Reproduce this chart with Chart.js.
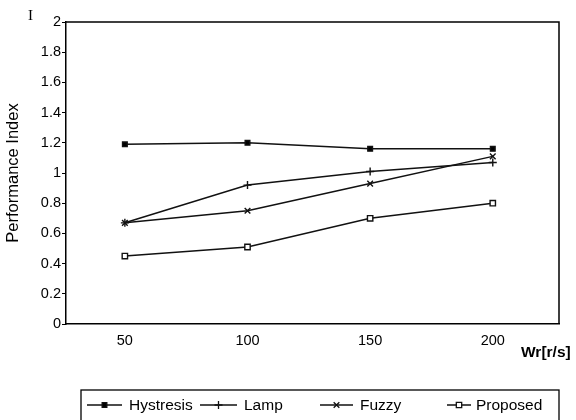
<!DOCTYPE html>
<html>
<head>
<meta charset="utf-8">
<script src="https://cdn.jsdelivr.net/npm/chart.js@4/dist/chart.umd.min.js"></script>
<style>
html,body{margin:0;padding:0;background:#fff;}
#wrap{width:576px;height:420px;position:relative;}
</style>
</head>
<body>
<div id="wrap"><canvas id="c" width="576" height="420"></canvas></div>
<script>
const categories = [50, 100, 150, 200];
const hystresis = [1.19, 1.20, 1.16, 1.16];
const lamp = [0.67, 0.92, 1.01, 1.07];
const fuzzy = [0.67, 0.75, 0.93, 1.11];
const proposed = [0.45, 0.51, 0.70, 0.80];
const seriesNames = ['Hystresis', 'Lamp', 'Fuzzy', 'Proposed'];
const xTitle = 'Wr[r/s]';
const yTitle = 'Performance Index';
const cornerLabel = 'I';

const FONT = "'Liberation Sans', Arial, sans-serif";
const toPts = arr => categories.map((x, i) => ({x: x, y: arr[i]}));

const styles = [
  {pointStyle: 'rect', pointRadius: 3.3, bg: '#000'},
  {pointStyle: 'cross', pointRadius: 4, bg: '#000'},
  {pointStyle: 'crossRot', pointRadius: 4, bg: '#000'},
  {pointStyle: 'rect', pointRadius: 3.8, bg: '#fff'}
];
const seriesData = [hystresis, lamp, fuzzy, proposed];

const datasets = seriesData.map((arr, i) => ({
  label: seriesNames[i],
  data: toPts(arr),
  borderColor: '#111',
  borderWidth: 1.5,
  backgroundColor: styles[i].bg,
  pointStyle: styles[i].pointStyle,
  pointRadius: styles[i].pointRadius,
  pointBorderColor: '#111',
  pointBorderWidth: 1.4,
  pointBackgroundColor: styles[i].bg,
  tension: 0,
  fill: false
}));

const decor = {
  id: 'decor',
  afterDraw(chart) {
    const ctx = chart.ctx;
    const a = chart.chartArea;
    ctx.save();
    ctx.strokeStyle = '#000';
    ctx.lineWidth = 1.5;
    ctx.beginPath();
    ctx.moveTo(a.left, a.top);
    ctx.lineTo(a.right, a.top);
    ctx.lineTo(a.right, a.bottom);
    ctx.stroke();

    // corner label
    ctx.fillStyle = '#000';
    ctx.font = "15px 'Liberation Serif', serif";
    ctx.textAlign = 'left';
    ctx.textBaseline = 'alphabetic';
    ctx.fillText(cornerLabel, 28, 20);

    // x title
    ctx.font = "bold 15.5px " + FONT;
    ctx.fillText(xTitle, 521, 357);

    // legend box
    ctx.lineWidth = 1.3;
    ctx.strokeRect(81, 390, 478, 40);
    const items = [
      {x0: 87, x1: 122, tx: 129},
      {x0: 200, x1: 237, tx: 244},
      {x0: 320, x1: 353, tx: 360},
      {x0: 447, x1: 471, tx: 476}
    ];
    const yc = 405;
    ctx.font = "15.5px " + FONT;
    ctx.textBaseline = 'middle';
    items.forEach((it, i) => {
      const ds = chart.data.datasets[i];
      ctx.strokeStyle = '#111';
      ctx.lineWidth = 1.5;
      ctx.beginPath();
      ctx.moveTo(it.x0, yc);
      ctx.lineTo(it.x1, yc);
      ctx.stroke();
      ctx.fillStyle = ds.pointBackgroundColor;
      ctx.lineWidth = 1.3;
      Chart.helpers.drawPoint(ctx, {pointStyle: ds.pointStyle, radius: ds.pointRadius, rotation: 0, borderWidth: 1.3}, (it.x0 + it.x1) / 2, yc);
      ctx.fillStyle = '#000';
      ctx.fillText(ds.label, it.tx, yc + 1);
    });
    ctx.restore();
  }
};

new Chart(document.getElementById('c'), {
  type: 'line',
  data: {datasets: datasets},
  options: {
    responsive: false,
    animation: false,
    devicePixelRatio: 1,
    layout: {padding: {left: 0, top: 22, right: 17, bottom: 66}},
    plugins: {legend: {display: false}, tooltip: {enabled: false}},
    scales: {
      x: {
        type: 'linear',
        min: 26,
        max: 227,
        afterBuildTicks: s => { s.ticks = categories.map(v => ({value: v})); },
        afterFit: s => { s.height = 30; },
        grid: {display: false, drawTicks: false},
        border: {display: true, color: '#000', width: 1.5},
        ticks: {color: '#000', padding: 8, font: {family: FONT, size: 14.5}, maxRotation: 0}
      },
      y: {
        min: 0,
        max: 2,
        afterFit: s => { s.width = 66; },
        grid: {drawOnChartArea: false, drawTicks: true, tickLength: 4, color: '#000', lineWidth: 1},
        border: {display: true, color: '#000', width: 1.5},
        ticks: {
          stepSize: 0.2, color: '#000', padding: 1,
          font: {family: FONT, size: 14.5},
          callback: v => String(Number(v.toFixed(1)))
        },
        title: {display: true, text: yTitle, color: '#000', font: {family: FONT, size: 16.5}, padding: {top: 4, bottom: 0}}
      }
    }
  },
  plugins: [decor]
});
</script>
</body>
</html>
